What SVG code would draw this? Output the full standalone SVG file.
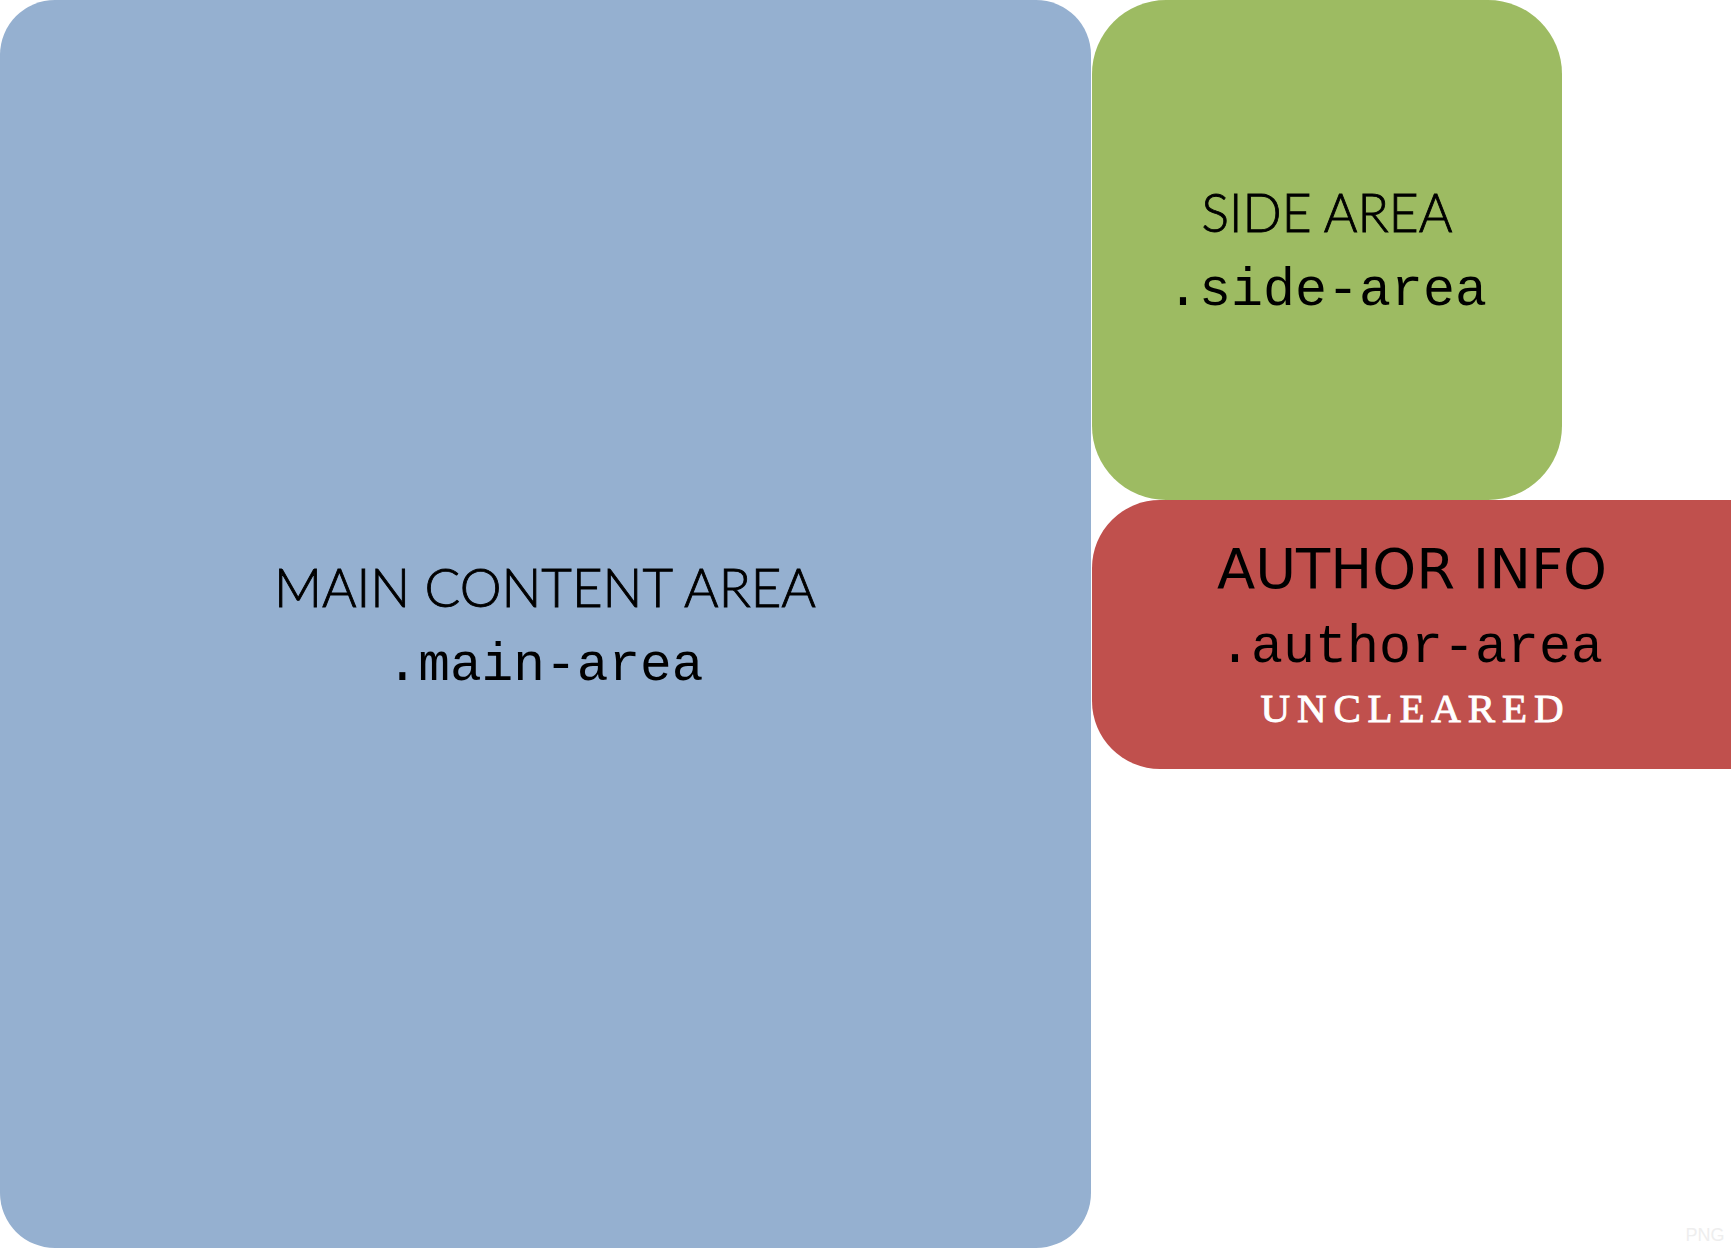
<svg xmlns="http://www.w3.org/2000/svg" width="1732" height="1248" viewBox="0 0 1732 1248">
<style>
.title{font-family:Lato,"Open Sans","Liberation Sans",sans-serif;font-size:54px;font-weight:300;fill:#000;stroke:#000;stroke-width:0.9;text-anchor:middle}
.code{font-family:"Liberation Mono","Courier New",monospace;font-size:53px;fill:#000;text-anchor:middle}
.auth{font-family:"DejaVu Sans Condensed","Liberation Sans",sans-serif;font-size:56px;fill:#000;text-anchor:middle}
.unc{font-family:"Liberation Serif","Times New Roman",serif;font-size:41px;fill:#fff;stroke:#fff;stroke-width:0.9;text-anchor:middle}
</style>
<rect width="1732" height="1248" fill="#ffffff"/>
<g id="main-area">
<rect x="0" y="0" width="1091" height="1248" rx="55" ry="55" fill="#95B0D0"/>
<text class="title" x="545" y="607" textLength="542" lengthAdjust="spacingAndGlyphs">MAIN CONTENT AREA</text>
<text class="code" x="545" y="680" textLength="317" lengthAdjust="spacingAndGlyphs">.main-area</text>
</g>
<g id="side-area">
<rect x="1092" y="0" width="470" height="500" rx="74" ry="74" fill="#9DBB62"/>
<text class="title" x="1327" y="232" textLength="251" lengthAdjust="spacingAndGlyphs">SIDE AREA</text>
<text class="code" x="1327" y="305" textLength="320" lengthAdjust="spacingAndGlyphs">.side-area</text>
</g>
<g id="author-area">
<path d="M1160,500 H1731 V769 H1160 A68,68 0 0 1 1092,701 V568 A68,68 0 0 1 1160,500 Z" fill="#C0504D"/>
<text class="auth" x="1412" y="588" textLength="390" lengthAdjust="spacingAndGlyphs">AUTHOR INFO</text>
<text class="code" x="1411" y="662" textLength="384" lengthAdjust="spacingAndGlyphs">.author-area</text>
<text class="unc" x="1412" y="722" textLength="303" lengthAdjust="spacing">UNCLEARED</text>
</g>
<g id="connectors"></g>
<text x="1705" y="1241" font-family="Liberation Sans, sans-serif" font-size="18" fill="#EEEEEE" text-anchor="middle">PNG</text>
</svg>
